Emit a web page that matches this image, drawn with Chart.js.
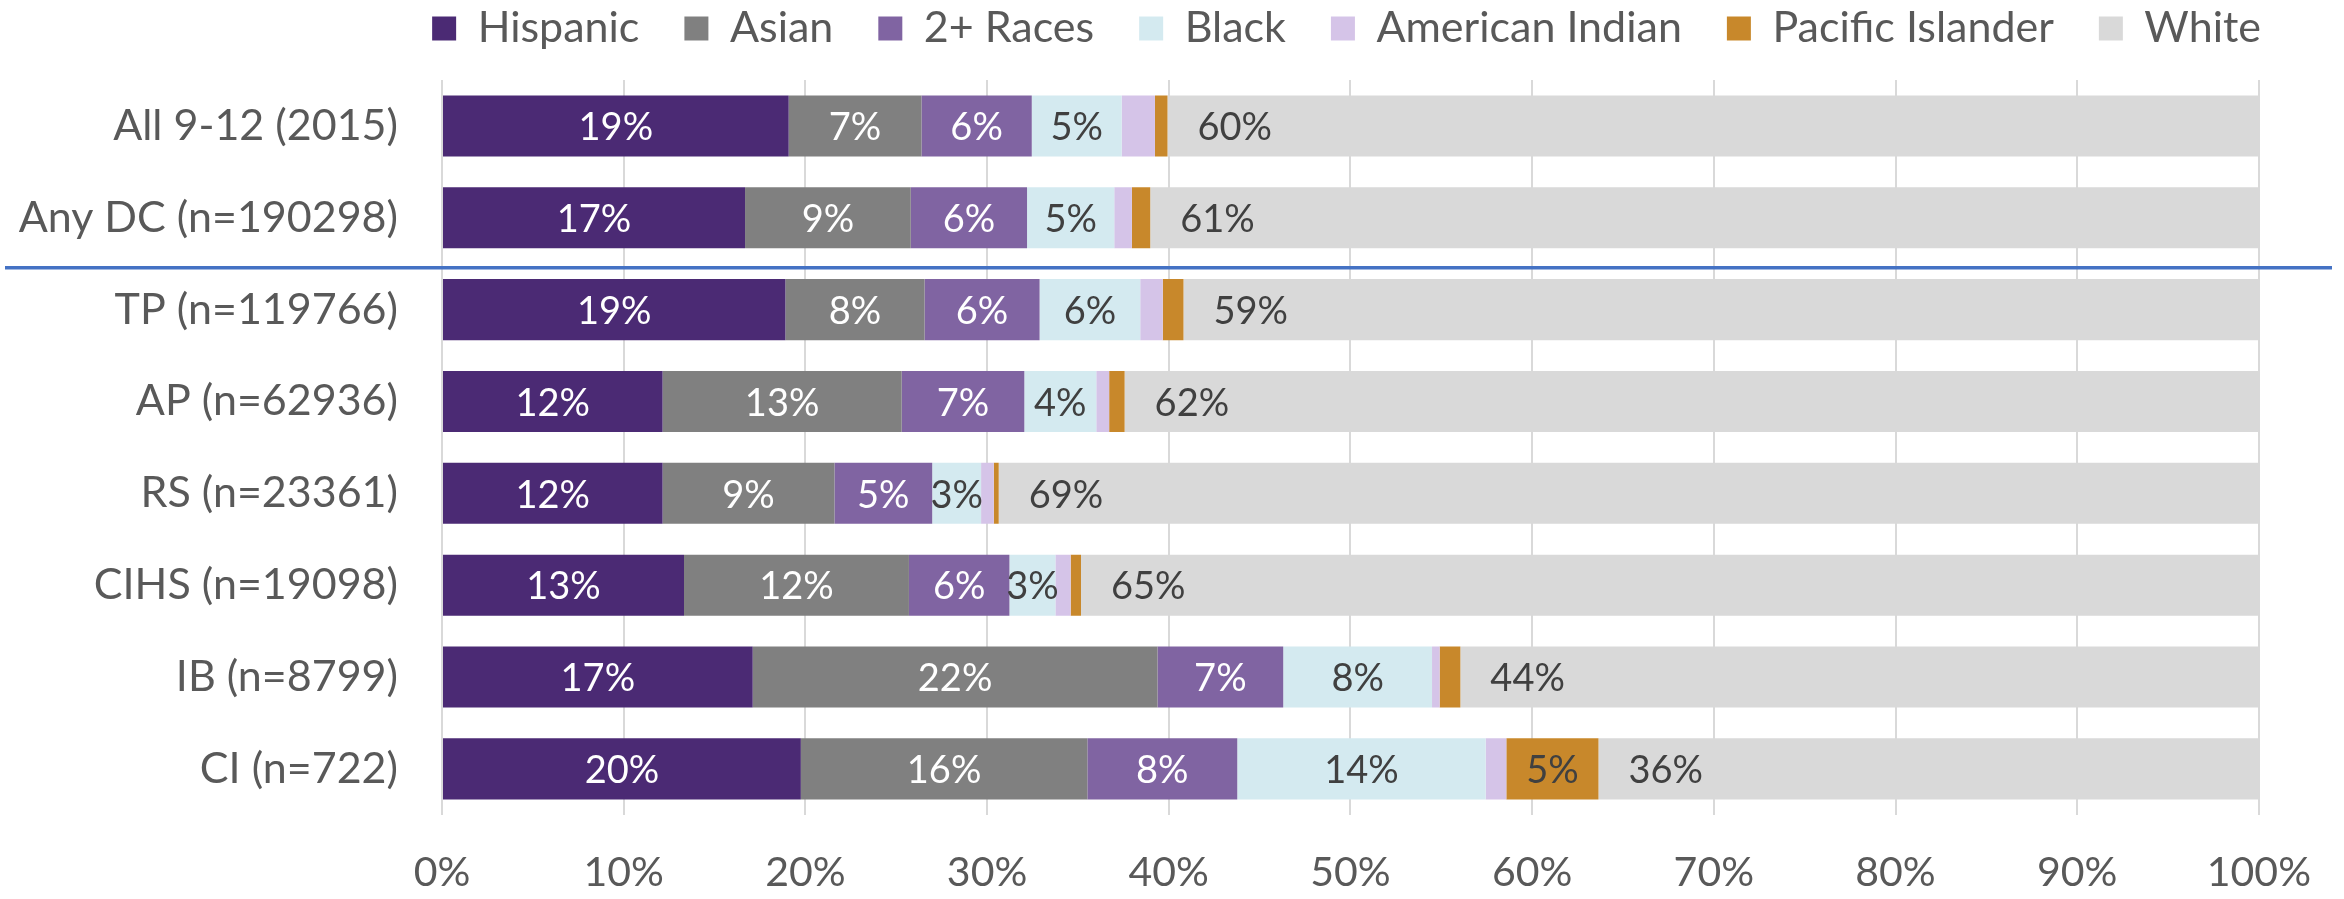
<!DOCTYPE html>
<html>
<head>
<meta charset="utf-8">
<script src="https://cdn.jsdelivr.net/npm/chart.js@4.4.0/dist/chart.umd.min.js"></script>
<style>
  html, body { margin: 0; padding: 0; background: #fff; }
</style>
</head>
<body>
<canvas id="myChart-Race" width="2344" height="899"></canvas>
<script>
const categories = ['All 9-12 (2015)', 'Any DC (n=190298)', 'TP (n=119766)', 'AP (n=62936)', 'RS (n=23361)', 'CIHS (n=19098)', 'IB (n=8799)', 'CI (n=722)'];
const hispanic = [19.08, 16.68, 18.90, 12.14, 12.14, 13.32, 17.10, 19.75];
const asian = [7.31, 9.12, 7.66, 13.16, 9.46, 12.38, 22.28, 15.77];
const twoPlus = [6.07, 6.40, 6.33, 6.75, 5.38, 5.53, 6.92, 8.25];
const black = [4.95, 4.80, 5.54, 3.96, 2.69, 2.53, 8.19, 13.67];
const amIndian = [1.83, 0.97, 1.24, 0.71, 0.70, 0.84, 0.42, 1.14];
const pacific = [0.69, 1.01, 1.14, 0.85, 0.27, 0.57, 1.14, 5.07];
const white = [60.07, 61.02, 59.19, 62.43, 69.36, 64.83, 43.95, 36.35];
const xTicks = [0, 10, 20, 30, 40, 50, 60, 70, 80, 90, 100];

Chart.defaults.font.family = 'Lato';

// adds room under the legend
const legendGap = {
  id: 'legendGap',
  beforeInit(chart) {
    if (!chart.legend) return;
    const fit = chart.legend.fit;
    chart.legend.fit = function () {
      fit.call(this);
      this.height += 20;
    };
  }
};

// blue line between the summary rows and the programs
const divider = {
  id: 'divider',
  afterDatasetsDraw(chart) {
    const ctx = chart.ctx;
    const y = chart.scales.y.getPixelForValue(1.5) + 4;
    ctx.save();
    ctx.strokeStyle = '#4472C4';
    ctx.lineWidth = 3.5;
    ctx.beginPath();
    ctx.moveTo(5, y);
    ctx.lineTo(2332, y);
    ctx.stroke();
    ctx.restore();
  }
};

const barLabels = {
  id: 'barLabels',
  afterDatasetsDraw(chart) {
    const ctx = chart.ctx;
    ctx.save();
    ctx.font = '38px Lato';
    ctx.textBaseline = 'middle';
    chart.data.datasets.forEach((ds, i) => {
      const meta = chart.getDatasetMeta(i);
      meta.data.forEach((bar, j) => {
        const v = ds.data[j];
        if (v < 2) return;
        const { x, y, base } = bar.getProps(['x', 'y', 'base'], true);
        const txt = Math.round(v) + '%';
        ctx.fillStyle = ds.labelColor;
        if (ds.insideBase) {
          ctx.textAlign = 'left';
          ctx.fillText(txt, base + 30, y + 2);
        } else {
          ctx.textAlign = 'center';
          ctx.fillText(txt, (x + base) / 2, y + 2);
        }
      });
    });
    ctx.restore();
  }
};

const raceChart = document.getElementById('myChart-Race');

new Chart(raceChart, {
  type: 'bar',
  data: {
    labels: categories,
    datasets: [
      { label: 'Hispanic', data: hispanic, backgroundColor: '#4B2A74', labelColor: '#ffffff' },
      { label: 'Asian', data: asian, backgroundColor: '#808080', labelColor: '#ffffff' },
      { label: '2+ Races', data: twoPlus, backgroundColor: '#8064A2', labelColor: '#ffffff' },
      { label: 'Black', data: black, backgroundColor: '#D4EAF0', labelColor: '#404040' },
      { label: 'American Indian', data: amIndian, backgroundColor: '#D5C4E8', labelColor: '#404040' },
      { label: 'Pacific Islander', data: pacific, backgroundColor: '#C8882B', labelColor: '#404040' },
      { label: 'White', data: white, backgroundColor: '#D9D9D9', labelColor: '#404040', insideBase: true }
    ]
  },
  options: {
    indexAxis: 'y',
    responsive: false,
    animation: false,
    datasets: {
      bar: { categoryPercentage: 1, barPercentage: 0.665, borderWidth: 0, xAxisID: 'x', yAxisID: 'y' }
    },
    layout: {
      padding: { top: -38, right: 38, bottom: -31, left: 0 }
    },
    scales: {
      x: {
        stacked: true,
        min: 0,
        max: 100,
        afterBuildTicks(scale) {
          scale.ticks = xTicks.map(v => ({ value: v }));
        },
        ticks: {
          callback: v => v + '%',
          color: '#595959',
          font: { size: 41 },
          padding: 33
        },
        grid: { color: '#D9D9D9', lineWidth: 2, drawTicks: false },
        border: { display: false }
      },
      y: {
        stacked: true,
        ticks: { color: '#595959', font: { size: 43 }, padding: 44 },
        grid: { display: false, drawTicks: false },
        border: { display: false },
        afterFit(scale) {
          scale.width = 442;
        }
      },
      y2: {
        type: 'linear',
        position: 'right',
        grid: { display: false, drawTicks: false },
        ticks: { display: false },
        border: { display: false },
        afterFit(scale) {
          scale.width = 44;
        }
      }
    },
    plugins: {
      legend: {
        position: 'top',
        align: 'end',
        labels: {
          boxWidth: 24,
          boxHeight: 24,
          padding: 45,
          color: '#595959',
          font: { size: 43 }
        }
      },
      tooltip: { enabled: false }
    }
  },
  plugins: [legendGap, divider, barLabels]
});
</script>
</body>
</html>
